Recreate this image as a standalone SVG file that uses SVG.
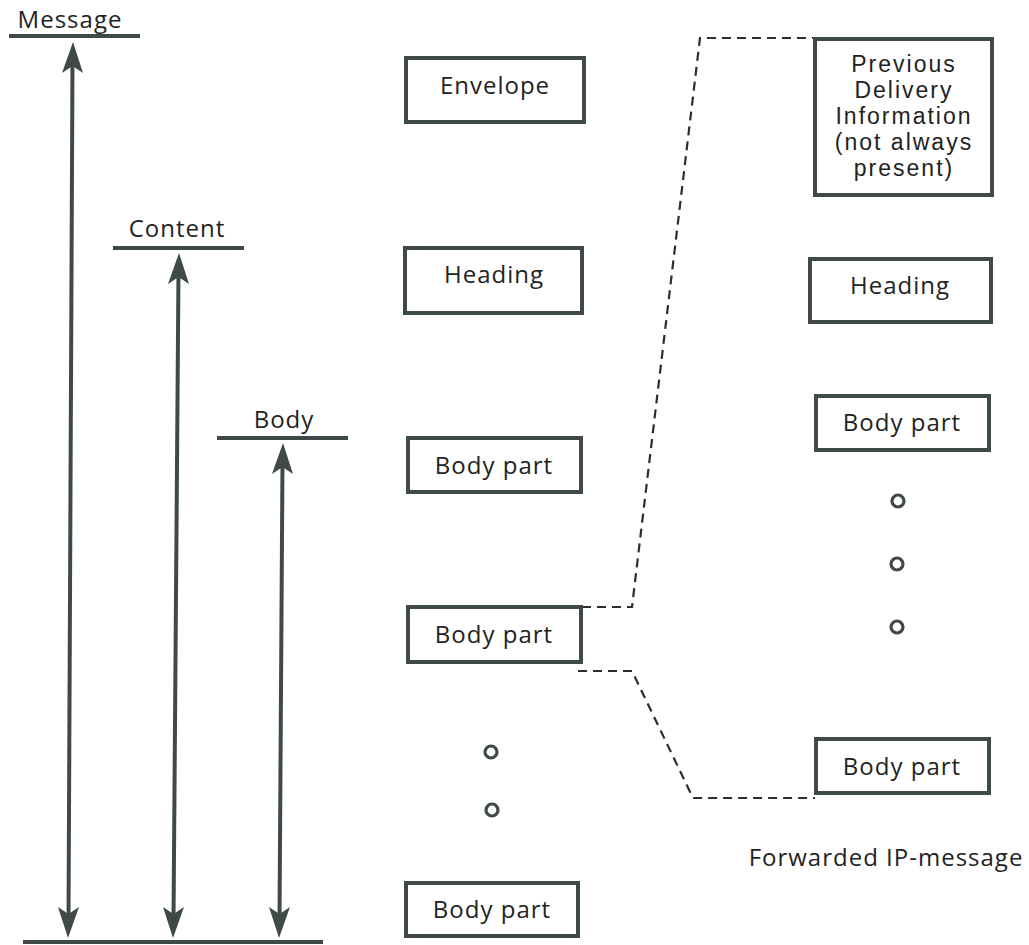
<svg xmlns="http://www.w3.org/2000/svg" width="1029" height="945" viewBox="0 0 1029 945">
<style>
.box{fill:#fff;stroke:#3f4a48;stroke-width:4}
.t{font-family:"Open Sans","Noto Sans","Liberation Sans",sans-serif;font-size:24px;letter-spacing:1px;fill:#1f2322;text-anchor:middle}
.tc{font-family:"Liberation Sans",Arial,sans-serif;font-size:23px;letter-spacing:2px;fill:#1f2322;text-anchor:middle}
.bar{stroke:#3f4a48;stroke-width:4;fill:none}
.shaft{stroke:#3f4a48;stroke-width:4;fill:none}
.head{fill:#3f4a48}
.dash{stroke:#2a2f2e;stroke-width:2.2;fill:none;stroke-dasharray:9,6}
.dot{fill:none;stroke:#3f4a48;stroke-width:3.2}
</style>
<rect width="1029" height="945" fill="#fff"/>
<g id="labels">
<text class="t" x="70" y="28">Message</text>
<line class="bar" x1="9" y1="36" x2="140" y2="36"/>
<text class="t" x="177" y="237">Content</text>
<line class="bar" x1="113" y1="248" x2="244" y2="248"/>
<text class="t" x="284" y="428">Body</text>
<line class="bar" x1="217" y1="438" x2="348" y2="438"/>
<line class="bar" x1="23" y1="942" x2="323" y2="942"/>
</g>
<g id="connectors">
<line class="shaft" x1="72.5" y1="60" x2="68.5" y2="920"/>
<path class="head" d="M73,42 L83,73 L72.5,66 L62,73 Z"/>
<path class="head" d="M68,938 L58,907 L68.5,914 L79,907 Z"/>
<line class="shaft" x1="178.5" y1="270" x2="173.5" y2="920"/>
<path class="head" d="M179,253 L189,284 L178.5,277 L168,284 Z"/>
<path class="head" d="M173,938 L163,907 L173.5,914 L184,907 Z"/>
<line class="shaft" x1="282.5" y1="460" x2="279.5" y2="920"/>
<path class="head" d="M283,443 L293,474 L282.5,467 L272,474 Z"/>
<path class="head" d="M279,938 L269,907 L279.5,914 L290,907 Z"/>
<polyline class="dash" points="582,607 632,607 700,38 815,38"/>
<polyline class="dash" points="578,671 632,671 693,798 815,798"/>
</g>
<g id="envelope"><rect class="box" x="406" y="58" width="178" height="64"/><text class="t" x="495" y="94">Envelope</text></g>
<g id="heading1"><rect class="box" x="405" y="248" width="177" height="65"/><text class="t" x="494" y="283">Heading</text></g>
<g id="bodypart1"><rect class="box" x="408" y="438" width="173" height="54"/><text class="t" x="494" y="474">Body part</text></g>
<g id="bodypart2"><rect class="box" x="408" y="607" width="173" height="55"/><text class="t" x="494" y="643">Body part</text></g>
<g id="dots1"><circle class="dot" cx="491" cy="752" r="6"/><circle class="dot" cx="492" cy="810" r="6"/></g>
<g id="bodypart3"><rect class="box" x="406" y="883" width="172" height="53"/><text class="t" x="492" y="918">Body part</text></g>
<g id="prevdelivery"><rect class="box" x="815" y="39" width="177" height="156"/>
<text class="tc"><tspan x="904" y="72">Previous</tspan><tspan x="904" y="98">Delivery</tspan><tspan x="904" y="124">Information</tspan><tspan x="904" y="150">(not always</tspan><tspan x="904" y="176">present)</tspan></text></g>
<g id="heading2"><rect class="box" x="810" y="259" width="181" height="63"/><text class="t" x="900" y="294">Heading</text></g>
<g id="bodypart4"><rect class="box" x="816" y="396" width="173" height="54"/><text class="t" x="902" y="431">Body part</text></g>
<g id="dots2"><circle class="dot" cx="898" cy="501" r="6"/><circle class="dot" cx="897" cy="564" r="6"/><circle class="dot" cx="897" cy="627" r="6"/></g>
<g id="bodypart5"><rect class="box" x="816" y="739" width="173" height="54"/><text class="t" x="902" y="775">Body part</text></g>
<g id="caption"><text class="t" x="886" y="866">Forwarded IP-message</text></g>
</svg>
